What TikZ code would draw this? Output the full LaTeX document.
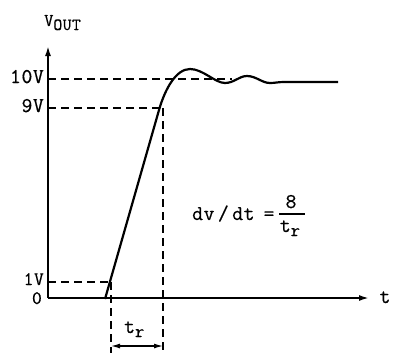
\documentclass[tikz,border=0pt]{standalone}
\usepackage{fontspec}
\setmonofont{Latin Modern Mono}
\newfontfamily\widett[LetterSpace=3,FakeBold=0.6]{Latin Modern Mono}
\usetikzlibrary{arrows.meta}
\begin{document}
\begin{tikzpicture}[x=1pt,y=-1pt,
  axis/.style={line width=1.8pt,-{Latex[length=10pt,width=6pt]}},
  guide/.style={line width=1.2pt,dash pattern=on 8pt off 5pt},
  wave/.style={line width=2.2pt,line join=round},
  lbl/.style={font=\widett\fontsize{21}{23}\selectfont,inner sep=0pt},
  smlbl/.style={font=\widett\fontsize{19}{21}\selectfont,inner sep=0pt}]
\useasboundingbox (0,0) rectangle (403,360);
% coordinates
\coordinate (O) at (48,298);
\coordinate (ytop) at (48,46);
\coordinate (xend) at (369,298);
\coordinate (y10) at (48,79);
\coordinate (y9) at (48,108);
\coordinate (y1) at (48,282);
\coordinate (d10) at (232,79);
\coordinate (d9) at (160,108);
\coordinate (d1) at (111,282);
\coordinate (vl) at (111,353);
\coordinate (vr0) at (163,108);
\coordinate (vr) at (163,353);
\coordinate (al) at (111,346);
\coordinate (ar) at (163,346);
% guides
\draw[guide] (y10) -- (d10);
\draw[guide] (y9) -- (d9);
\draw[guide] (y1) -- (d1);
\draw[guide] (d1) -- (vl);
\draw[guide] (vr0) -- (vr);
% axes
\draw[axis] (O) -- (ytop);
\draw[axis] (O) -- (xend);
% waveform
\draw[wave] (105,299) -- (159,110) .. controls (165,89) and (176,69) .. (190,69)
  .. controls (203,69) and (215,83) .. (225,83)
  .. controls (234,83) and (239,76) .. (247,76)
  .. controls (256,76) and (262,83) .. (270,83)
  .. controls (275,83) and (278,82) .. (284,82) -- (338,82);
% t_r arrow
\draw[line width=1.2pt,{Latex[length=9pt,width=5pt]}-{Latex[length=9pt,width=5pt]}] (al) -- (ar);
% labels
\node[lbl,anchor=base west] (vout) at (44,26) {\fontsize{18}{20}\selectfont V\raisebox{-4pt}{\fontsize{17}{19}\selectfont OUT}};
\node[lbl,anchor=base east] (l10) at (44,83) {10V};
\node[lbl,anchor=base east] (l9) at (44,112) {9V};
\node[smlbl,anchor=base east] (l1) at (44,285) {1V};
\node[smlbl,anchor=base east] (l0) at (42,304) {0};
\node[lbl,anchor=base] (lt) at (385,303) {t};
\node[lbl,anchor=base west] (ltr) at (124,333) {t\raisebox{-4pt}{\fontsize{18}{20}\selectfont r}};
\node[lbl,anchor=base west] (eq) at (192,220) {dv\,/\,dt};
\node[lbl,anchor=base] (eqs) at (269,220) {=};
\draw[line width=1.1pt] (279,214) -- (305,214);
\node[lbl,anchor=base] (num) at (291,208) {8};
\node[lbl,anchor=base] (den) at (290,232) {t\raisebox{-4pt}{\fontsize{18}{20}\selectfont r}};
\end{tikzpicture}
\end{document}
